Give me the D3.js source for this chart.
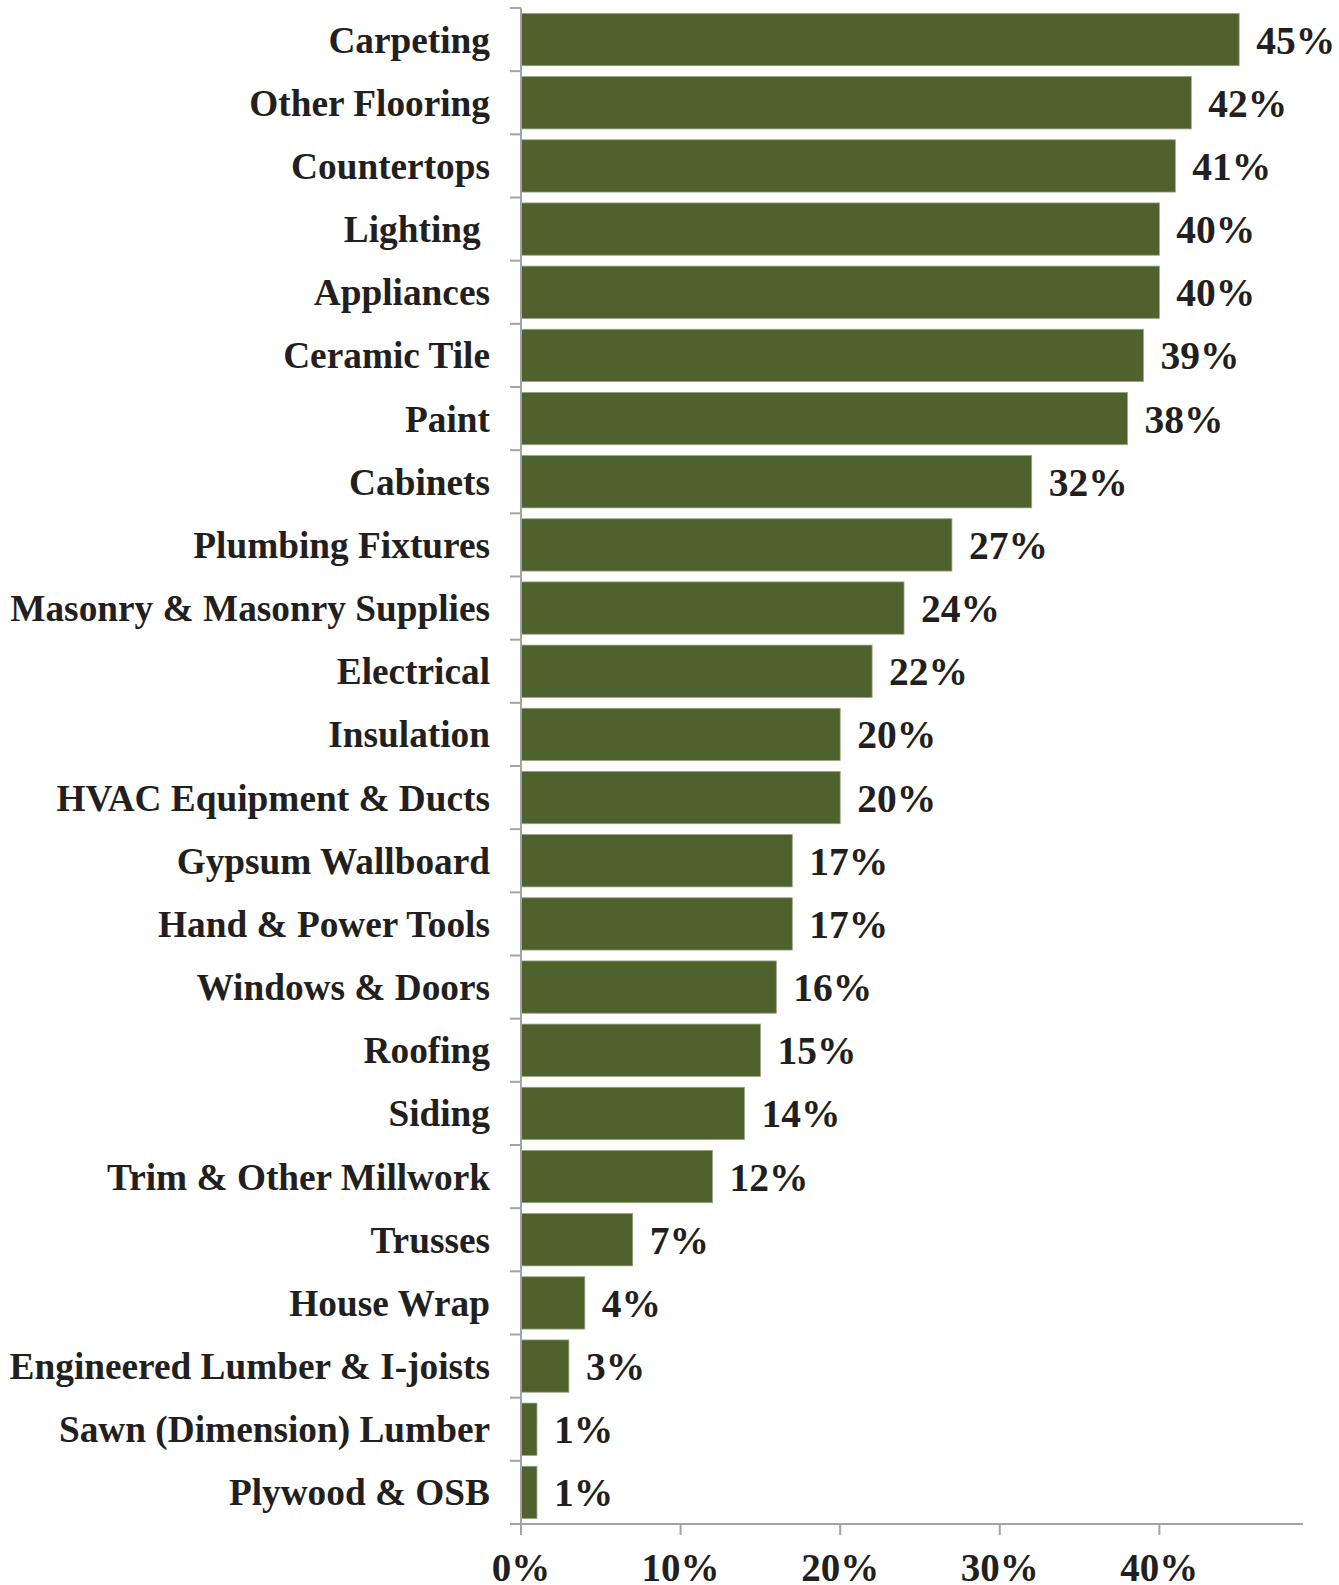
<!DOCTYPE html>
<html>
<head>
<meta charset="utf-8">
<script src="https://cdn.jsdelivr.net/npm/d3@7"></script>
<style>
  html, body { margin: 0; padding: 0; background: #fff; }
  svg { display: block; }
  text { font-family: "Liberation Serif", "Times New Roman", serif; font-weight: bold; fill: #231f20; }
</style>
</head>
<body>
<svg id="chart" width="1339" height="1585"></svg>
<script>
// Share of builders reporting each product category
const categories = [
  "Carpeting", "Other Flooring", "Countertops", "Lighting ", "Appliances",
  "Ceramic Tile", "Paint", "Cabinets", "Plumbing Fixtures",
  "Masonry & Masonry Supplies", "Electrical", "Insulation",
  "HVAC Equipment & Ducts", "Gypsum Wallboard", "Hand & Power Tools",
  "Windows & Doors", "Roofing", "Siding", "Trim & Other Millwork",
  "Trusses", "House Wrap", "Engineered Lumber & I-joists",
  "Sawn (Dimension) Lumber", "Plywood & OSB"
];
const values = [45, 42, 41, 40, 40, 39, 38, 32, 27, 24, 22, 20, 20, 17, 17, 16, 15, 14, 12, 7, 4, 3, 1, 1];
const xTicks = [0, 10, 20, 30, 40];

const svg = d3.select("#chart");
const plotLeft = 521, plotTop = 8, plotBottom = 1524, axisEnd = 49;

const x = d3.scaleLinear().domain([0, axisEnd]).range([plotLeft, 1303]);
const y = d3.scaleBand().domain(categories).range([plotTop, plotBottom])
  .paddingInner(0.172).paddingOuter(0.086);

const axisColor = "#a3a3a3";

// Bars
svg.append("g").selectAll("rect").data(categories).join("rect")
  .attr("x", x(0))
  .attr("y", d => y(d))
  .attr("width", (d, i) => x(values[i]) - x(0))
  .attr("height", y.bandwidth())
  .attr("fill", "#4f612c")
  .attr("stroke", "#9aa583")
  .attr("stroke-width", 0.8);

// Category axis with ticks between categories
const boundaries = categories.map(c => y(c) - y.step() * y.paddingInner() / 2).concat([plotBottom]);
const gy = svg.append("g");
gy.append("line").attr("x1", plotLeft).attr("x2", plotLeft).attr("y1", plotTop).attr("y2", plotBottom)
  .attr("stroke", axisColor).attr("stroke-width", 2);
gy.selectAll("line.tick").data(boundaries).join("line").attr("class", "tick")
  .attr("x1", plotLeft - 11).attr("x2", plotLeft).attr("y1", d => d).attr("y2", d => d)
  .attr("stroke", axisColor).attr("stroke-width", 2);

// Value axis
const gx = svg.append("g");
gx.append("line").attr("x1", plotLeft - 11).attr("x2", x(axisEnd)).attr("y1", plotBottom).attr("y2", plotBottom)
  .attr("stroke", axisColor).attr("stroke-width", 2);
gx.selectAll("line.tick").data(xTicks).join("line").attr("class", "tick")
  .attr("x1", d => x(d)).attr("x2", d => x(d)).attr("y1", plotBottom).attr("y2", plotBottom + 11)
  .attr("stroke", axisColor).attr("stroke-width", 2);
gx.selectAll("text").data(xTicks).join("text")
  .attr("x", d => x(d)).attr("y", 1581)
  .attr("text-anchor", "middle")
  .attr("font-size", 39)
  .text(d => d + "%");

// Category labels
svg.append("g").selectAll("text").data(categories).join("text")
  .attr("x", 490)
  .attr("y", d => y(d) + y.bandwidth() / 2 + 13)
  .attr("text-anchor", "end")
  .attr("font-size", 37.3)
  .style("white-space", "pre")
  .text(d => d);

// Value labels
svg.append("g").selectAll("text").data(categories).join("text")
  .attr("x", (d, i) => x(values[i]) + 17)
  .attr("y", d => y(d) + y.bandwidth() / 2 + 14)
  .attr("font-size", 39.5)
  .text((d, i) => values[i] + "%");
</script>
</body>
</html>
